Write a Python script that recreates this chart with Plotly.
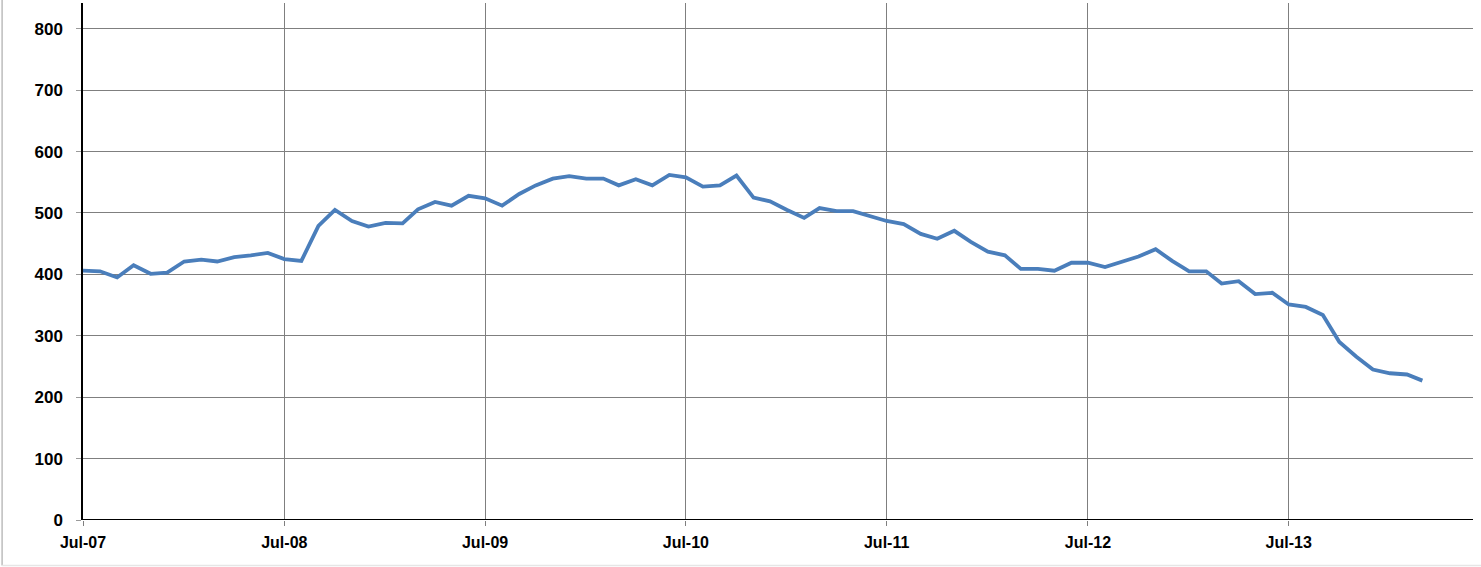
import pandas as pd
import plotly.graph_objects as go

start_month = "2007-07-01"
values = [406, 405, 395, 415, 401, 403, 421, 424, 421, 428, 431, 435,
          425, 422, 479, 505, 487, 478, 484, 483, 506, 518, 512, 528,
          524, 512, 531, 545, 556, 560, 556, 556, 545, 555, 545, 562,
          558, 543, 545, 561, 525, 519, 505, 492, 508, 503, 503, 495,
          487, 482, 466, 458, 471, 453, 437, 431, 409, 409, 406, 419,
          419, 412, 421, 429, 441, 422, 405, 405, 385, 389, 368, 370,
          351, 347, 334, 290, 266, 245, 239, 237, 227]
months = pd.date_range(start=start_month, periods=len(values), freq="MS")
y_ticks = [0, 100, 200, 300, 400, 500, 600, 700, 800]

fig = go.Figure()
fig.add_trace(go.Scatter(x=months, y=values, mode="lines",
                         line=dict(color="#4A7EBB", width=3.8),
                         showlegend=False, hoverinfo="x+y"))

fam = "Liberation Sans, Arial, sans-serif"

fig.update_layout(
    width=1481, height=567,
    margin=dict(l=83, r=8, t=3, b=47),
    paper_bgcolor="white", plot_bgcolor="white",
    xaxis=dict(
        type="date",
        automargin=False,
        range=["2007-07-01", "2014-06-01"],
        tick0=start_month, dtick="M12", tickformat="%b-%y",
        showgrid=True, gridcolor="#7f7f7f", gridwidth=1,
        showline=False, zeroline=False,
        ticks="outside", ticklen=5, tickcolor="#7f7f7f",
        tickfont=dict(family=fam, size=16, color="#000000", weight="bold"),
        ticklabelstandoff=3,
    ),
    yaxis=dict(
        automargin=False,
        range=[0, 842],
        tickvals=y_ticks,
        showgrid=True, gridcolor="#7f7f7f", gridwidth=1,
        showline=True, linecolor="#000000", linewidth=1.5,
        zeroline=False,
        ticks="outside", ticklen=5, tickcolor="#9a9a9a",
        tickfont=dict(family=fam, size=17, color="#000000", weight="bold"),
        ticklabelstandoff=10,
    ),
    shapes=[
        dict(type="line", xref="paper", yref="y", x0=0, x1=1, y0=0, y1=0,
             line=dict(color="#000000", width=2)),
        dict(type="line", xref="paper", yref="paper",
             x0=-0.0582, x1=-0.0582, y0=-0.088, y1=1.2,
             line=dict(color="#bdbdbd", width=1.5)),
        dict(type="line", xref="paper", yref="paper",
             x0=-0.0582, x1=1.2, y0=-0.088, y1=-0.088,
             line=dict(color="#e6e6e6", width=1.5)),
    ],
)

fig.write_html(
    "out.html",
    config={"displayModeBar": False},
    post_script="document.body.style.margin='0px';document.body.style.overflow='hidden';",
)
